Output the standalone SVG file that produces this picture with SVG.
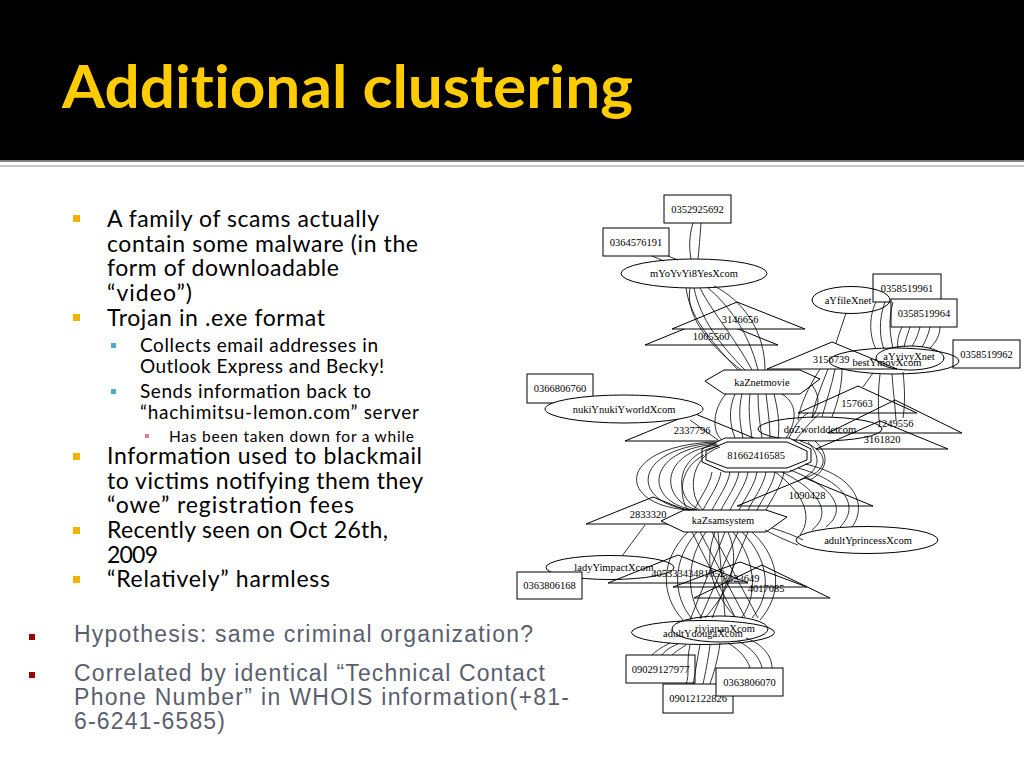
<svg xmlns="http://www.w3.org/2000/svg" width="1024" height="768" viewBox="0 0 1024 768">
<defs>
<style>
.hdr{fill:#000}
.title{font-family:Lato,"Open Sans",sans-serif;font-weight:bold;font-size:60px;fill:#FFCC00;font-variant-ligatures:none}
.b1{font-family:Lato,"Open Sans",sans-serif;font-size:23px;fill:#000}
.b2{font-family:Lato,"Open Sans",sans-serif;font-size:19px;fill:#000}
.b3{font-family:Lato,"Open Sans",sans-serif;font-size:15.5px;fill:#000}
.bt{font-family:"Liberation Sans",Arial,sans-serif;font-size:23px;fill:#5a5f6e}
.sq1{fill:#F2B200}
.sq2{fill:#4BACC6}
.sq3{fill:#E8798A}
.sq4{fill:#990000}
.n{fill:#fff;stroke:#000;stroke-width:1}
.o{fill:none;stroke:#000;stroke-width:1}
.t{font-family:"Liberation Serif","Times New Roman",serif;font-size:10.5px;text-anchor:middle;fill:#000}
.e{fill:none;stroke:#000;stroke-width:0.8}
</style>
</defs>
<rect width="1024" height="768" fill="#fff"/>
<rect class="hdr" x="0" y="0" width="1024" height="160"/>
<rect x="0" y="160" width="1024" height="2" fill="#7f7f7f"/>
<rect x="0" y="165" width="1024" height="2" fill="#c8c8c8"/>
<text class="title" x="62" y="108" textLength="571" lengthAdjust="spacingAndGlyphs">Additional clustering</text>

<g id="bullets">
<rect class="sq1" x="73" y="215" width="7" height="7"/>
<text class="b1" x="107" y="227" textLength="272">A family of scams actually</text>
<text class="b1" x="107" y="252" textLength="311">contain some malware (in the</text>
<text class="b1" x="107" y="276" textLength="232">form of downloadable</text>
<text class="b1" x="107" y="301" textLength="85">“video”)</text>
<rect class="sq1" x="73" y="314" width="7" height="7"/>
<text class="b1" x="107" y="326" textLength="218">Trojan in .exe format</text>
<rect class="sq2" x="111" y="343" width="5" height="5"/>
<text class="b2" x="140" y="352" textLength="238">Collects email addresses  in</text>
<text class="b2" x="140" y="373" textLength="244">Outlook Express and Becky!</text>
<rect class="sq2" x="111" y="389" width="5" height="5"/>
<text class="b2" x="140" y="398" textLength="231">Sends information back to</text>
<text class="b2" x="140" y="419" textLength="279">“hachimitsu-lemon.com” server</text>
<rect class="sq3" x="145" y="434" width="4" height="4"/>
<text class="b3" x="169" y="442" textLength="245">Has been taken down for a while</text>
<rect class="sq1" x="73" y="453" width="7" height="7"/>
<text class="b1" x="107" y="464" textLength="315">Information used to blackmail</text>
<text class="b1" x="107" y="489" textLength="316">to victims notifying them they</text>
<text class="b1" x="107" y="513" textLength="247">“owe”  registration fees</text>
<rect class="sq1" x="73" y="527" width="7" height="7"/>
<text class="b1" x="107" y="538" textLength="281">Recently seen on Oct 26th,</text>
<text class="b1" x="107" y="563" textLength="51">2009</text>
<rect class="sq1" x="73" y="576" width="7" height="7"/>
<text class="b1" x="107" y="587" textLength="223">“Relatively” harmless</text>
</g>

<g id="notes">
<rect class="sq4" x="29" y="634" width="6" height="6"/>
<text class="bt" x="74" y="642" textLength="459">Hypothesis: same criminal organization?</text>
<rect class="sq4" x="29" y="672" width="6" height="6"/>
<text class="bt" x="74" y="681" textLength="471">Correlated by identical “Technical Contact</text>
<text class="bt" x="74" y="705" textLength="495">Phone Number” in WHOIS information(+81-</text>
<text class="bt" x="74" y="729" textLength="151">6-6241-6585)</text>
</g>

<g id="graph">
<g id="n-0352925692"><rect class="n" x="664" y="195" width="67" height="28"/><text class="t" x="697.5" y="213">0352925692</text></g>
<g id="n-0364576191"><rect class="n" x="603" y="228" width="66" height="28"/><text class="t" x="636" y="246">0364576191</text></g>
<g id="n-mYoYvYi8YesXcom"><ellipse class="n" cx="694" cy="273.5" rx="73" ry="14.5"/><text class="t" x="694" y="277">mYoYvYi8YesXcom</text></g>
<g id="n-1005560"><polygon class="n" points="645,345 711,318 778,345"/><text class="t" x="711" y="340">1005560</text></g>
<g id="n-3146656"><polygon class="n" points="672,329 737,302 805,329"/><text class="t" x="740" y="323">3146656</text></g>
<g id="n-aYfileXnet"><ellipse class="n" cx="851" cy="300" rx="39" ry="13.5"/><text class="t" x="848" y="304">aYfileXnet</text></g>
<g id="n-0358519961"><rect class="o" x="873" y="274" width="68" height="28"/><text class="t" x="907" y="292">0358519961</text></g>
<g id="n-0358519964"><rect class="n" x="891" y="299" width="66" height="28"/><text class="t" x="924" y="317">0358519964</text></g>
<g id="n-kaZnetmovie"><polygon class="n" points="705,381 724,370 800,370 820,379 800,394 724,394"/><text class="t" x="762" y="386">kaZnetmovie</text></g>
<g id="n-0358519962"><rect class="n" x="953" y="340" width="67" height="28"/><text class="t" x="986.5" y="358">0358519962</text></g>
<g id="n-3156739"><polygon class="o" points="767,369 832,342 897,369"/><text class="t" x="831" y="363">3156739</text></g>
<g id="n-bestYmovXcom"><ellipse class="o" cx="894" cy="361" rx="65" ry="13"/><text class="t" x="887" y="366">bestYmovXcom</text></g>
<g id="n-aYyivyXnet"><ellipse class="o" cx="910" cy="358" rx="34" ry="12"/><text class="t" x="909" y="360">aYyivyXnet</text></g>
<g id="n-157663"><polygon class="o" points="798,413 858,386 917,413"/><text class="t" x="857" y="407">157663</text></g>
<g id="n-1249556"><polygon class="o" points="828,433 895,400 962,433"/><text class="t" x="895" y="427">1249556</text></g>
<g id="n-doZworlddetcom"><ellipse class="o" cx="820" cy="429" rx="62" ry="12"/><text class="t" x="820" y="433">doZworlddetcom</text></g>
<g id="n-3161820"><polygon class="o" points="816,449 880,421 948,449"/><text class="t" x="882" y="443">3161820</text></g>
<g id="n-2337796"><polygon class="o" points="625,441 693,413 761,441"/><text class="t" x="692" y="434">2337796</text></g>
<g id="n-0366806760"><rect class="n" x="527" y="374" width="66" height="29"/><text class="t" x="560" y="392">0366806760</text></g>
<g id="n-nukiYnukiYworldXcom"><ellipse class="n" cx="624" cy="409" rx="79" ry="14"/><text class="t" x="624" y="413">nukiYnukiYworldXcom</text></g>
<g id="n-81662416585"><polygon class="n" points="725,438 789,438 811,449 811,462 789,472 725,472 702,462 702,449"/><polygon class="o" points="727,442 787,442 807,451 807,460 787,468 727,468 706,460 706,451"/><text class="t" x="756" y="459">81662416585</text></g>
<g id="n-1090428"><polygon class="o" points="737,506 805,478 873,506"/><text class="t" x="807" y="499">1090428</text></g>
<g id="n-2833320"><polygon class="n" points="586,524 653,497 720,524"/><text class="t" x="648" y="518">2833320</text></g>
<g id="n-kaZsamsystem"><polygon class="n" points="661,521 684,510 766,510 787,517 766,532 684,532"/><text class="t" x="723" y="524">kaZsamsystem</text></g>
<g id="n-adultYprincessXcom"><ellipse class="o" cx="867" cy="540" rx="71" ry="13.5"/><text class="t" x="868" y="544">adultYprincessXcom</text></g>
<g id="n-ladyYimpactXcom"><ellipse class="n" cx="610" cy="567.5" rx="64" ry="12"/><text class="t" x="614" y="571">ladyYimpactXcom</text></g>
<g id="n-0363806168"><rect class="n" x="517" y="572" width="65" height="27"/><text class="t" x="549.5" y="589">0363806168</text></g>
<g id="n-40533343481052"><polygon class="o" points="608,583 678,555 748,583"/><text class="t" x="688" y="577">40533343481052</text></g>
<g id="n-8323649"><polygon class="o" points="673,587 740,562 807,587"/><text class="t" x="741" y="582">8323649</text></g>
<g id="n-4017085"><polygon class="o" points="694,598 762,565 830,598"/><text class="t" x="766" y="592">4017085</text></g>
<g id="n-adultYdougaXcom"><ellipse class="o" cx="703" cy="632.5" rx="71.5" ry="12"/><text class="t" x="703" y="637">adultYdougaXcom</text></g>
<g id="n-riyiananXcom"><ellipse class="o" cx="720" cy="629" rx="48" ry="13"/><text class="t" x="725" y="632">riyiananXcom</text></g>
<g id="n-09029127977"><rect class="n" x="626" y="655" width="69" height="28"/><text class="t" x="660.5" y="673">09029127977</text></g>
<g id="n-09012122826"><rect class="n" x="663" y="684" width="70" height="29"/><text class="t" x="698" y="702">09012122826</text></g>
<g id="n-0363806070"><rect class="n" x="716" y="668" width="67" height="28"/><text class="t" x="749.5" y="686">0363806070</text></g>
</g>

<g id="connectors">
<path class="e" d="M693,223 C689,236 689,248 691,259"/>
<path class="e" d="M701,223 C700,237 699,249 698,259"/>
<path class="e" d="M652,256 L664,261"/>
<path class="e" d="M668,256 L678,260"/>
<path class="e" d="M686,288 C690,315 705,335 738,370"/>
<path class="e" d="M694,288 C700,318 720,345 745,370"/>
<path class="e" d="M700,288 C712,312 735,338 752,370"/>
<path class="e" d="M707,287 C728,305 748,330 758,370"/>
<path class="e" d="M714,286 C742,300 765,330 765,370"/>
<path class="e" d="M690,288 C684,320 718,352 741,370"/>
<path class="e" d="M846,313 L836,343"/>
<path class="e" d="M885,302 C878,320 880,340 884,349"/>
<path class="e" d="M893,302 C888,320 890,335 893,348"/>
<path class="e" d="M902,327 C898,335 897,342 898,348"/>
<path class="e" d="M910,327 C907,336 905,342 904,347"/>
<path class="e" d="M920,327 C918,335 915,342 912,346"/>
<path class="e" d="M930,327 C928,336 925,342 922,347"/>
<path class="e" d="M940,327 C940,335 936,342 930,348"/>
<path class="e" d="M876,302 C868,318 870,338 876,349"/>
<path class="e" d="M828,369 C822,385 815,400 812,418"/>
<path class="e" d="M835,369 C832,385 826,402 822,417"/>
<path class="e" d="M842,369 C842,385 838,402 832,417"/>
<path class="e" d="M820,369 C808,388 800,405 798,420"/>
<path class="e" d="M880,374 C878,390 878,405 879,420"/>
<path class="e" d="M892,374 C893,390 895,405 896,420"/>
<path class="e" d="M903,372 C905,390 905,405 903,418"/>
<path class="e" d="M873,373 L863,387"/>
<path class="e" d="M812,385 C820,396 820,406 812,418"/>
<path class="e" d="M735,394 C728,410 730,425 735,438"/>
<path class="e" d="M742,394 C738,410 740,425 743,438"/>
<path class="e" d="M750,394 C748,410 750,425 752,438"/>
<path class="e" d="M758,394 C758,410 760,425 762,438"/>
<path class="e" d="M766,394 C768,410 770,425 770,438"/>
<path class="e" d="M774,394 C778,410 780,425 778,438"/>
<path class="e" d="M782,394 C800,405 795,425 786,438"/>
<path class="e" d="M726,394 C712,410 712,432 722,440"/>
<path class="e" d="M789,438 C795,425 800,418 808,413"/>
<path class="e" d="M795,441 C805,428 812,420 820,413"/>
<path class="e" d="M800,441 C830,450 830,470 805,478"/>
<path class="e" d="M815,441 C830,455 828,470 810,480"/>
<path class="e" d="M808,442 C822,458 820,470 800,480"/>
<path class="e" d="M690,420 L718,440"/>
<path class="e" d="M715,442 C615,446 615,506 690,510"/>
<path class="e" d="M716,443 C630,448 630,504 692,510"/>
<path class="e" d="M717,444 C644,450 644,502 694,510"/>
<path class="e" d="M718,445 C659,452 659,500 697,510"/>
<path class="e" d="M719,446 C673,455 673,498 700,510"/>
<path class="e" d="M720,447 C688,458 688,496 703,510"/>
<path class="e" d="M704,455 C676,470 680,500 688,510"/>
<path class="e" d="M712,472 C710,485 700,498 694,510"/>
<path class="e" d="M721,472 C719,485 709,498 703,510"/>
<path class="e" d="M730,472 C728,485 718,498 712,510"/>
<path class="e" d="M739,472 C737,485 727,498 721,510"/>
<path class="e" d="M748,472 C746,485 736,498 730,510"/>
<path class="e" d="M757,472 C755,485 745,498 739,510"/>
<path class="e" d="M766,472 C764,485 754,498 748,510"/>
<path class="e" d="M775,472 C773,485 763,498 757,510"/>
<path class="e" d="M784,472 C782,485 772,498 766,510"/>
<path class="e" d="M775,472 C800,490 815,515 800,535"/>
<path class="e" d="M782,472 C815,488 835,512 812,530"/>
<path class="e" d="M790,470 C830,485 850,508 826,527"/>
<path class="e" d="M798,468 C842,480 862,505 840,527"/>
<path class="e" d="M805,464 C855,475 868,505 852,527"/>
<path class="e" d="M765,530 C780,538 790,542 798,545"/>
<path class="e" d="M772,528 C785,532 795,536 803,540"/>
<path class="e" d="M645,525 L622,556"/>
<path class="e" d="M688,532 C660,560 660,595 683,620"/>
<path class="e" d="M697,532 C672,560 672,595 692,619"/>
<path class="e" d="M706,532 C686,560 686,595 702,618"/>
<path class="e" d="M742,532 C770,560 772,595 752,618"/>
<path class="e" d="M752,532 C782,560 782,595 760,620"/>
<path class="e" d="M733,532 C756,560 758,595 742,617"/>
<path class="e" d="M700,532 L745,617"/>
<path class="e" d="M712,532 L758,618"/>
<path class="e" d="M725,532 L690,620"/>
<path class="e" d="M738,532 L700,619"/>
<path class="e" d="M718,532 L725,616"/>
<path class="e" d="M748,532 L712,618"/>
<path class="e" d="M692,532 L735,617"/>
<path class="e" d="M715,532 C700,570 720,600 735,617"/>
<path class="e" d="M728,532 C745,570 720,600 705,618"/>
<path class="e" d="M670,643 C660,648 655,652 652,655"/>
<path class="e" d="M678,644 C668,648 664,652 662,655"/>
<path class="e" d="M686,645 C678,650 674,653 672,655"/>
<path class="e" d="M700,645 C697,660 695,675 693,684"/>
<path class="e" d="M710,645 C708,660 705,675 703,684"/>
<path class="e" d="M720,643 C718,660 713,675 710,684"/>
<path class="e" d="M728,643 C740,650 748,660 750,668"/>
<path class="e" d="M738,641 C752,648 760,658 762,668"/>
<path class="e" d="M746,638 C765,645 772,658 772,668"/>
<path class="e" d="M690,645 C686,662 690,675 686,684"/>
</g>
</svg>
